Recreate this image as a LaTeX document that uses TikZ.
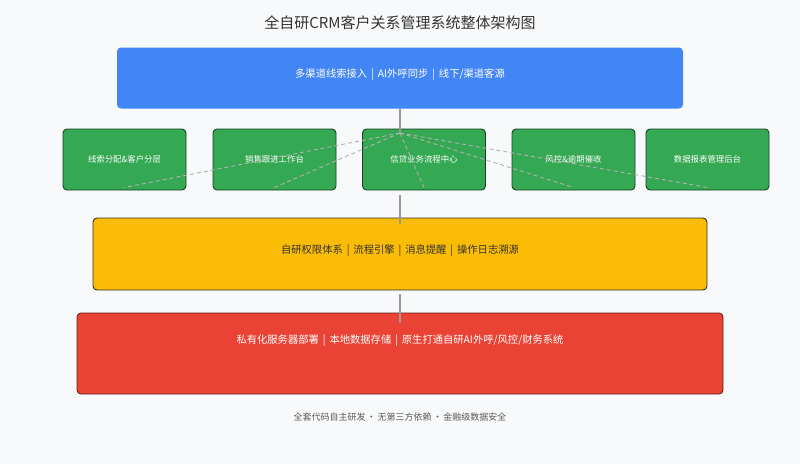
\documentclass[tikz,border=0pt]{standalone}
\usepackage{fontspec}
\setmainfont{Noto Sans CJK SC}
\usepackage{xcolor}
\usetikzlibrary{positioning,calc}
\definecolor{bgcol}{HTML}{F8F9FA}
\definecolor{gblue}{HTML}{4285F4}
\definecolor{ggreen}{HTML}{34A853}
\definecolor{gyellow}{HTML}{FBBC05}
\definecolor{gred}{HTML}{EA4335}
\definecolor{txtdark}{HTML}{333333}
\tikzset{
  layerbox/.style={rounded corners=4pt,inner sep=0pt},
  modbox/.style={rounded corners=4pt,fill=ggreen,draw=ggreen!40!black,line width=0.9pt,
    minimum width=123pt,minimum height=61pt,inner sep=0pt,text=white,
    font=\fontsize{8.4}{10}\selectfont},
  lbl/.style={inner sep=0pt,font=\fontsize{10.3}{12}\selectfont},
  link/.style={gray!80,line width=1.4pt},
  dlink/.style={gray!60,line width=0.9pt,dash pattern=on 4pt off 3pt}
}
\newcommand{\sepbar}{\hspace{0.38em}|\hspace{0.38em}}

\begin{document}
\begin{tikzpicture}[x=1pt,y=-1pt]
  \fill[bgcol] (0,0) rectangle (800,464);
  \node[txtdark,font=\fontsize{15}{18}\selectfont] (title) at (400,23) {全自研CRM客户关系管理系统整体架构图};
  % access layer
  \node[layerbox,fill=gblue,minimum width=566pt,minimum height=61pt] (access) at (400,78) {};
  \node[lbl,text=white] (accesstxt) at ($(access.north)+(0,27)$) {多渠道线索接入\sepbar AI外呼同步\sepbar 线下/渠道客源};
  % business modules
  \foreach \i/\x/\t in {1/124.5/线索分配\&客户分层,2/274.5/销售跟进工作台,3/424/信贷业务流程中心,4/573.5/风控\&逾期催收,5/707.5/数据报表管理后台}
    \node[modbox] (g\i) at (\x,159.5) {\t};
  % platform layer
  \node[layerbox,fill=gyellow,draw=txtdark,line width=0.9pt,minimum width=614pt,minimum height=72pt] (core) at (400,254) {};
  \node[lbl,text=txtdark] (coretxt) at ($(core.north)+(0,33)$) {自研权限体系\sepbar 流程引擎\sepbar 消息提醒\sepbar 操作日志溯源};
  % infrastructure layer
  \node[layerbox,fill=gred,draw=gred!45!black,line width=0.9pt,minimum width=646pt,minimum height=81pt] (infra) at (400,353.5) {};
  \node[lbl,text=white] (infratxt) at ($(infra.north)+(0,28)$) {私有化服务器部署\sepbar 本地数据存储\sepbar 原生打通自研AI外呼/风控/财务系统};
  \node[text=black!65,font=\fontsize{9}{11}\selectfont] (foot) at (400,417) {全套代码自主研发\,·\,无第三方依赖\,·\,金融级数据安全};
  % connectors
  \coordinate (hub) at (400,133);
  \draw[link] (access.south) -- (hub);
  \foreach \i in {1,...,5}
    \draw[dlink] (hub) -- ($(g\i.south)+(0,-3)$);
  \draw[link] ($(hub |- g3.south)+(0,5)$) -- ($(core.north)+(0,6)$);
  \draw[link] ($(core.south)+(0,4)$) -- ($(infra.north)+(0,10)$);
\end{tikzpicture}
\end{document}
